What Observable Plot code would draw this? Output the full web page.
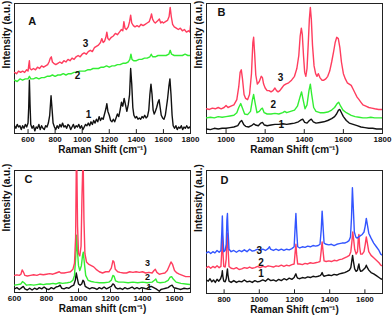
<!DOCTYPE html>
<html><head><meta charset="utf-8">
<script src="https://cdn.jsdelivr.net/npm/d3@7"></script>
<script src="https://cdn.jsdelivr.net/npm/@observablehq/plot@0.6"></script>
<style>
body{margin:0;background:#fff;}
#wrap{position:relative;width:392px;height:319px;overflow:hidden;background:#fff;}
#wrap svg{position:absolute;overflow:visible;}
</style></head><body><div id="wrap"></div>
<script>
// ---------- Panel A (x: 500-1800) ----------
const aTicks = [600,800,1000,1200,1400,1600,1800];
const aCurve1 = [[500,6],[510,4],[520,7],[530,5],[540,6],[550,3],[560,6],[570,4],[580,7],[590,5],[600,8],[605,20],[610,41],[615,22],[620,7],[630,4],[640,6],[650,2],[660,5],[670,4],[680,7],[690,3],[700,6],[710,4],[720,3],[730,6],[740,5],[750,8],[760,14],[770,29],[778,18],[785,8],[795,5],[805,3],[815,6],[825,4],[835,7],[845,5],[855,8],[865,5],[875,6],[885,4],[895,7],[905,6],[915,3],[925,5],[935,7],[945,4],[955,6],[965,5],[975,7],[985,4],[995,6],[1005,3],[1015,5],[1025,7],[1035,6],[1045,8],[1055,6],[1065,9],[1075,7],[1085,10],[1095,8],[1105,11],[1115,9],[1125,13],[1135,10],[1145,12],[1155,11],[1165,15],[1175,19],[1182,23],[1190,17],[1200,14],[1210,10],[1220,9],[1230,11],[1240,9],[1250,12],[1260,15],[1270,13],[1280,18],[1290,24],[1300,21],[1310,27],[1320,22],[1330,17],[1340,22],[1350,30],[1358,50],[1366,38],[1374,20],[1382,14],[1392,12],[1402,13],[1412,11],[1422,12],[1432,11],[1442,13],[1452,12],[1462,14],[1472,12],[1482,13],[1492,18],[1500,30],[1508,38],[1516,30],[1524,18],[1532,15],[1540,17],[1550,20],[1560,24],[1568,26],[1576,20],[1584,14],[1594,12],[1604,11],[1614,14],[1622,20],[1630,26],[1640,36],[1648,42],[1656,30],[1664,14],[1672,6],[1682,4],[1692,6],[1702,3],[1712,5],[1722,4],[1732,6],[1742,3],[1752,5],[1762,4],[1772,6],[1782,4],[1792,5],[1800,4]];
const aCurve2 = [[500,41],[520,40],[540,42],[560,41],[580,42],[600,42],[610,44],[620,42],[640,42],[660,43],[680,42],[700,43],[720,43],[740,44],[760,44],[780,45],[800,44],[820,45],[840,45],[860,46],[880,45],[900,46],[920,46],[940,47],[960,47],[980,48],[1000,48],[1020,48],[1040,49],[1060,49],[1080,50],[1100,50],[1120,50],[1140,51],[1160,51],[1180,52],[1200,51],[1220,52],[1240,52],[1260,53],[1280,53],[1300,54],[1320,54],[1340,55],[1352,57],[1360,61],[1368,57],[1380,56],[1400,56],[1420,57],[1440,57],[1460,58],[1480,58],[1500,59],[1510,61],[1520,59],[1540,59],[1560,60],[1580,60],[1600,60],[1620,60],[1640,61],[1650,64],[1660,61],[1680,60],[1700,60],[1720,60],[1740,60],[1760,61],[1780,60],[1800,60]];
const aCurve3 = [[500,47],[515,46],[530,48],[545,47],[560,48],[575,47],[590,49],[600,48],[606,53],[610,56],[614,50],[625,49],[640,50],[655,49],[670,51],[685,50],[700,52],[715,51],[730,52],[745,53],[755,55],[765,58],[772,59],[780,55],[790,54],[805,53],[820,54],[835,55],[850,54],[865,56],[880,55],[895,57],[910,56],[925,58],[940,57],[955,59],[970,60],[985,59],[1000,61],[1015,62],[1030,61],[1045,63],[1060,64],[1075,63],[1090,66],[1105,67],[1120,68],[1135,70],[1145,73],[1155,70],[1165,71],[1175,74],[1182,78],[1190,73],[1200,72],[1215,74],[1230,75],[1245,77],[1260,76],[1275,78],[1290,80],[1300,79],[1308,86],[1316,81],[1326,80],[1340,82],[1350,86],[1358,91],[1366,85],[1378,83],[1390,82],[1405,83],[1420,82],[1435,84],[1450,83],[1465,84],[1480,85],[1495,86],[1505,89],[1512,92],[1520,88],[1530,86],[1540,85],[1550,86],[1560,87],[1570,88],[1580,85],[1590,86],[1600,85],[1615,86],[1630,87],[1642,90],[1650,97],[1658,90],[1668,84],[1680,82],[1695,81],[1710,80],[1725,81],[1740,79],[1755,80],[1770,78],[1785,79],[1795,78],[1800,83]];
const aLabels = [{x:1024,y:69,t:"3"},{x:965,y:44.6,t:"2"},{x:1047,y:14.6,t:"1"}];

// ---------- Panel B (x: 900-1800) ----------
const bTicks = [1000,1200,1400,1600,1800];
const bCurve1 = [[900,3.5],[920,3],[940,4],[960,3.5],[980,4],[1000,4],[1020,4.5],[1040,5],[1060,6],[1072,9],[1080,10],[1090,7],[1100,5.5],[1115,5],[1130,6],[1142,7.5],[1150,6.5],[1165,6],[1178,8],[1186,8.5],[1196,6.5],[1210,6],[1230,6.5],[1250,7],[1270,7],[1290,7.5],[1310,7],[1330,7.5],[1350,8],[1370,9],[1384,10.5],[1392,11],[1402,8.5],[1414,8],[1426,10],[1436,11],[1446,9],[1460,8],[1480,8.5],[1500,9],[1520,10],[1540,11.5],[1555,13],[1565,15],[1575,18],[1582,18.5],[1590,16],[1600,13],[1615,10],[1630,8],[1650,7],[1670,6],[1690,5],[1710,4.5],[1730,4],[1750,4],[1770,3.5],[1800,3.5]];
const bCurve2 = [[900,12],[920,12.5],[940,12],[960,13],[980,12.5],[1000,13],[1020,13.5],[1040,14],[1055,16],[1065,20],[1075,23],[1085,19],[1095,15],[1110,14.5],[1125,17],[1135,26],[1141,30],[1148,24],[1158,16],[1170,17],[1180,19],[1186,19.5],[1195,16],[1210,15],[1230,15],[1250,15.5],[1270,15],[1290,16],[1300,17],[1310,16],[1330,17],[1350,18],[1365,21],[1378,28],[1386,32],[1394,26],[1404,19],[1414,22],[1424,33],[1431,38],[1438,30],[1448,20],[1460,17],[1480,16],[1500,16],[1520,16.5],[1540,18],[1555,20],[1568,23],[1576,24],[1586,21],[1598,18],[1615,16],[1640,14],[1660,13],[1680,12.5],[1700,12],[1720,12],[1740,12.5],[1760,12],[1780,12],[1800,12]];
const bCurve3 = [[900,19],[915,18.5],[930,19.5],[945,19],[960,20],[975,19],[990,20],[1000,21.5],[1010,20],[1025,21],[1040,22],[1055,26],[1065,36],[1072,47],[1078,49],[1084,42],[1092,30],[1100,27],[1110,26],[1120,30],[1130,46],[1137,70],[1141,74],[1146,62],[1152,45],[1160,38],[1170,40],[1180,44],[1186,43],[1192,38],[1200,35],[1210,33],[1220,33],[1230,32],[1240,33],[1250,35],[1258,33],[1266,32],[1275,33],[1285,35],[1295,37],[1305,38],[1320,39],[1335,41],[1350,44],[1362,50],[1372,60],[1379,75],[1385,81],[1390,76],[1396,60],[1402,47],[1408,44],[1414,50],[1420,68],[1426,88],[1431,97],[1436,88],[1442,68],[1450,52],[1458,46],[1465,44],[1472,46],[1480,43],[1490,41],[1500,41],[1510,42],[1520,44],[1530,48],[1540,55],[1550,63],[1558,70],[1566,74],[1574,73],[1582,66],[1590,55],[1600,46],[1610,42],[1620,39],[1630,38],[1640,37],[1650,34],[1660,31],[1670,28],[1680,26],[1690,24],[1700,22],[1715,21],[1730,20],[1745,19.5],[1760,19],[1780,18.5],[1800,18.5]];
const bLabels = [{x:1278,y:43,t:"3"},{x:1241,y:22.3,t:"2"},{x:1283,y:6.9,t:"1"}];

// ---------- Panel C (x: 600-1700) ----------
const cTicks = [600,800,1000,1200,1400,1600];
const cCurve1 = [[600,3],[615,4],[630,2.5],[645,4],[655,5],[665,3],[680,2],[695,3.5],[710,2],[725,3.5],[740,2.5],[755,4],[770,3],[785,4.5],[800,3],[815,2.5],[830,4],[845,3],[860,4.5],[875,5],[885,6],[895,3.5],[910,3],[925,4],[940,3.5],[955,5],[970,6],[980,10],[986,16],[992,12],[1000,7],[1010,6],[1020,7],[1028,10],[1034,9],[1042,5],[1055,4],[1070,3],[1085,4],[1100,3.5],[1115,2.5],[1130,4],[1145,3],[1160,4.5],[1175,3],[1190,4],[1205,5],[1215,7],[1222,6.5],[1232,4],[1245,3],[1260,3.5],[1275,2.5],[1290,4],[1305,3],[1320,3.5],[1335,4.5],[1350,3],[1365,4],[1380,3],[1395,4],[1410,3.5],[1425,3],[1440,4.5],[1455,5],[1470,4],[1485,3],[1495,2],[1505,1],[1515,2.5],[1530,3],[1545,3.5],[1560,4],[1575,5.5],[1585,6],[1595,4],[1610,3.5],[1625,3],[1640,2.5],[1660,3.5],[1680,3],[1700,3.5]];
const cCurve2 = [[600,6],[620,6.5],[640,7],[650,9],[660,8],[675,6],[700,6.5],[720,6],[740,6.5],[760,7],[780,6.5],[800,7],[820,7],[840,7.5],[860,7],[880,8],[900,7.5],[930,8],[950,8.5],[965,10],[975,14],[983,30],[988,47],[993,35],[1000,22],[1008,18],[1018,22],[1025,30],[1030,33],[1036,25],[1045,14],[1060,10],[1080,9],[1100,8.5],[1130,8],[1160,8],[1190,8.5],[1205,10],[1215,14],[1222,13.5],[1232,9.5],[1250,8.5],[1280,8.5],[1310,8],[1340,8.5],[1370,8],[1400,8.5],[1430,8],[1460,8.5],[1475,10],[1483,11],[1492,8.5],[1510,8],[1540,8.5],[1560,10],[1572,12.5],[1582,13],[1592,11],[1610,8.5],[1640,7.5],[1670,7],[1700,6.5]];
const cCurve3 = [[600,14],[615,14.5],[630,14],[640,15],[648,18.5],[655,17],[665,14],[680,13.5],[700,14],[720,14.5],[740,14],[760,15],[780,14.5],[800,15],[820,15.5],[840,15],[860,16],[880,17],[890,16],[910,16],[930,16.5],[950,17],[965,19],[975,24],[982,45],[986,100],[990,100],[994,55],[1000,32],[1008,30],[1016,38],[1022,80],[1026,100],[1030,100],[1034,60],[1040,32],[1050,25],[1065,23],[1080,22],[1095,21],[1110,19],[1130,17],[1150,16],[1170,17],[1190,17],[1205,20],[1215,26],[1222,25],[1230,19],[1245,17],[1260,16.5],[1280,16],[1300,16],[1320,17],[1340,16.5],[1360,17],[1380,16.5],[1400,17],[1420,16],[1440,16.5],[1460,16],[1472,18],[1480,19],[1490,16.5],[1505,15],[1520,15.5],[1540,16],[1555,18],[1568,22],[1578,25],[1588,23],[1600,18],[1615,16],[1630,15],[1650,14],[1670,13],[1690,13],[1700,13]];
const cLabels = [{x:1431,y:24.5,t:"3"},{x:1431,y:12.5,t:"2"},{x:1440,y:4.5,t:"1"}];

// ---------- Panel D (x: 700-1700) ----------
const dTicks = [800,1000,1200,1400,1600];
const dCurve1 = [[700,11],[710,10],[720,12],[730,9.5],[740,11],[750,9],[760,11.5],[770,10],[780,12],[787,15],[790,18.5],[793,14],[798,10],[806,9.5],[812,12],[816,17],[819,20],[822,15],[828,10],[840,9],[855,10.5],[870,9],[885,10],[900,9.5],[915,11],[930,9.5],[945,10],[960,9],[975,10.5],[990,9.5],[1005,10],[1020,11],[1035,10],[1050,12],[1065,10.5],[1080,11],[1095,10],[1110,11.5],[1125,10.5],[1140,12],[1155,11],[1170,12.5],[1185,11.5],[1198,13],[1204,15],[1208,16],[1212,14],[1218,12.5],[1230,12],[1245,13],[1260,12.5],[1275,13.5],[1290,13],[1305,14],[1320,13.5],[1335,14],[1345,14.5],[1352,15.5],[1357,17],[1362,15],[1368,14],[1380,14.5],[1395,15],[1410,14.5],[1425,15.5],[1440,15],[1455,16],[1470,16.5],[1485,17],[1500,18],[1512,19],[1520,21],[1526,27],[1530,31],[1535,26],[1542,20],[1550,18],[1558,19],[1562,22],[1566,24],[1570,20],[1576,18],[1585,18.5],[1595,20],[1602,21],[1608,23],[1614,21],[1622,19],[1635,17],[1650,16],[1665,14.5],[1680,13],[1690,12],[1700,11.5]];
const dCurve2 = [[700,21],[712,22],[724,20.5],[736,22],[748,21],[760,22.5],[772,21],[782,22],[787,35],[790,47],[793,35],[798,22],[806,21.5],[812,28],[816,45],[819,49],[822,38],[828,22],[840,20.5],[855,20],[870,21],[885,19.5],[900,20],[915,21],[930,20.5],[945,21.5],[960,20.5],[975,21],[990,22],[1005,21],[1020,22],[1035,21.5],[1050,22.5],[1065,22],[1080,21.5],[1095,22.5],[1110,22],[1125,23],[1140,22],[1155,23],[1170,22.5],[1185,23.5],[1198,24],[1204,34],[1208,40],[1212,32],[1218,24],[1230,24],[1245,23.5],[1260,24.5],[1275,24],[1290,25],[1305,24.5],[1320,25],[1335,25.5],[1345,26],[1352,35],[1357,42],[1362,35],[1368,26.5],[1380,26],[1395,26.5],[1410,26],[1425,27],[1440,26.5],[1455,27.5],[1470,28],[1485,29],[1500,30],[1512,31],[1520,34],[1526,42],[1531,50],[1536,44],[1542,36],[1550,32],[1558,34],[1562,44],[1566,48],[1570,38],[1576,32],[1585,32],[1595,34],[1602,40],[1608,46],[1614,41],[1622,34],[1635,31],[1650,29],[1665,27],[1680,25],[1690,23],[1700,22.5]];
const dCurve3 = [[700,33],[712,34],[724,32.5],[736,34],[748,33],[760,35],[772,33.5],[782,35],[787,50],[790,63],[793,48],[798,34],[806,35],[812,40],[816,60],[819,65],[822,52],[828,36],[840,34],[855,35],[870,33.5],[885,35],[900,34],[915,35.5],[930,34],[945,36],[960,34.5],[975,35],[990,36],[1005,35],[1020,36],[1035,35],[1050,36.5],[1058,38],[1064,36],[1080,35],[1095,36],[1110,35],[1125,36],[1140,35],[1155,36],[1170,35.5],[1185,36.5],[1198,38],[1204,55],[1208,65],[1212,52],[1218,38],[1230,37],[1245,38],[1260,37.5],[1275,38.5],[1290,38],[1305,39],[1320,38.5],[1335,39],[1345,40],[1352,52],[1357,67],[1362,55],[1368,41],[1380,40],[1395,39.5],[1410,40],[1425,39],[1440,40],[1455,40.5],[1470,41],[1485,41],[1500,42],[1510,43],[1518,46],[1524,62],[1529,86],[1534,70],[1540,50],[1548,46],[1556,45],[1565,46],[1575,47],[1585,48],[1595,50],[1602,55],[1608,61],[1614,56],[1622,49],[1635,45],[1650,41],[1665,38],[1680,35],[1690,32],[1700,31]];
const dLabels = [{x:1000,y:35,t:"3"},{x:1010,y:25,t:"2"},{x:1010,y:16,t:"1"}];

const RED = "#ff3d5e", GREEN = "#33ee33", BLACK = "#111111", BLUE = "#3355ff";
const FONT = "'Liberation Sans', Arial, sans-serif";

function panel(o) {
  const marks = [
    Plot.frame({stroke: "#222", strokeWidth: 1}),
    Plot.ruleX(o.ticks, {y1: 0, y2: 3, stroke: "#222"}),
    Plot.axisX({ticks: o.ticks, tickSize: 0, tickPadding: 3, fontSize: 8, fontWeight: "bold", label: null, tickFormat: d => String(d)}),
    ...o.series.map(s => Plot.line(s.data, {x: d => d[0], y: d => d[1], stroke: s.color, strokeWidth: 1.4, clip: true})),
    Plot.text(o.labels, {x: "x", y: "y", text: "t", fontSize: o.lblSize || 10, fontWeight: "bold", fill: "#111"}),
    Plot.text([o.letter], {x: "x", y: "y", text: "t", fontSize: 11, fontWeight: "bold", fill: "#111"}),
    Plot.text(["Intensity (a.u.)"], {frameAnchor: "left", dx: -8, rotate: -90, fontSize: 10, fontWeight: "bold", fill: "#111"}),
    Plot.text([o.xTitle], {frameAnchor: "bottom", dy: 19, fontSize: 10, fontWeight: "bold", fill: "#111"})
  ];
  const svg = Plot.plot({
    width: o.width, height: o.height,
    marginLeft: 14, marginRight: o.width - 14 - 176, marginTop: o.mt, marginBottom: o.height - o.mt - o.fh,
    x: {domain: o.domain, axis: null},
    y: {domain: [0, 100], axis: null},
    style: {fontFamily: FONT, background: "transparent", overflow: "visible", color: "#111"},
    marks
  });
  svg.style.left = o.left + "px";
  svg.style.top = o.top + "px";
  document.getElementById("wrap").appendChild(svg);
}

panel({left: 0, top: 0, width: 196, height: 160, mt: 3, fh: 130, domain: [500, 1800], ticks: aTicks,
  series: [{data: aCurve1, color: BLACK}, {data: aCurve2, color: GREEN}, {data: aCurve3, color: RED}],
  labels: aLabels, letter: {x: 631, y: 86, t: "A"}, xTitle: "Raman Shift (cm⁻¹)"});
panel({left: 192, top: 0, width: 200, height: 160, mt: 3, fh: 130, domain: [900, 1800], ticks: bTicks,
  series: [{data: bCurve1, color: BLACK}, {data: bCurve2, color: GREEN}, {data: bCurve3, color: RED}],
  labels: bLabels, letter: {x: 977, y: 93, t: "B"}, xTitle: "Raman Shift (cm⁻¹)"});
panel({left: 0, top: 155, width: 196, height: 164, mt: 15, fh: 122, domain: [600, 1700], ticks: cTicks,
  series: [{data: cCurve1, color: BLACK}, {data: cCurve2, color: GREEN}, {data: cCurve3, color: RED}],
  labels: cLabels, lblSize: 9, letter: {x: 687, y: 93, t: "C"}, xTitle: "Raman shift (cm⁻¹)"});
panel({left: 192, top: 155, width: 200, height: 164, mt: 15, fh: 123, domain: [700, 1700], ticks: dTicks,
  series: [{data: dCurve1, color: BLACK}, {data: dCurve2, color: RED}, {data: dCurve3, color: BLUE}],
  labels: dLabels, letter: {x: 802, y: 92, t: "D"}, xTitle: "Raman Shift (cm⁻¹)"});
</script></body></html>
